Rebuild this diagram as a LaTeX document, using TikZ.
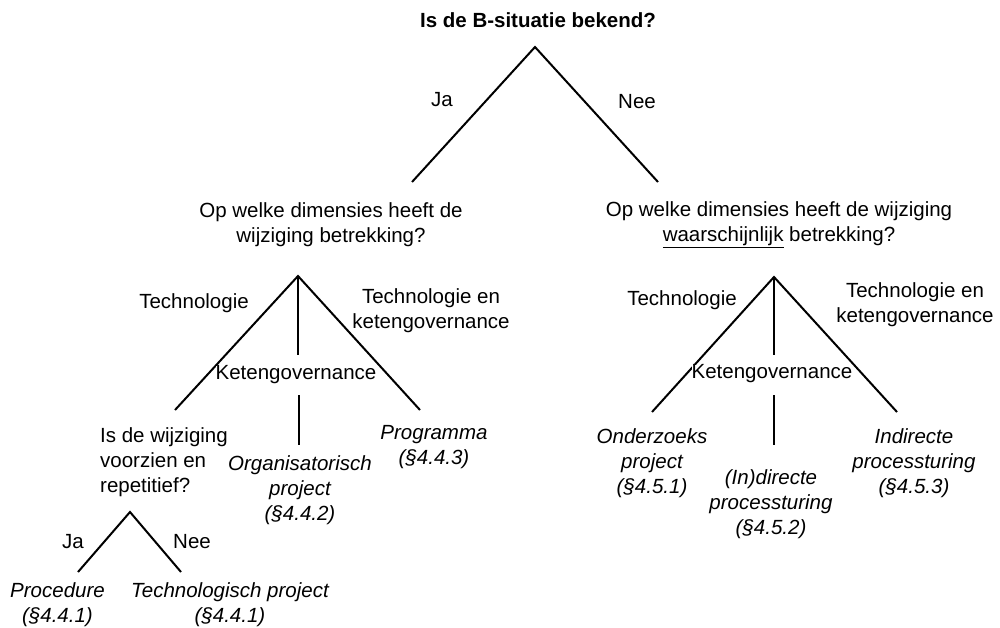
\documentclass[tikz,border=0pt]{standalone}
\usepackage{fontspec}
\setmainfont{Liberation Sans}
\begin{document}
\begin{tikzpicture}[x=1pt,y=-1pt,
  every node/.style={inner sep=0pt, font=\fontsize{20.5pt}{25pt}\selectfont},
  txt/.style={align=center},
  result/.style={align=center, font=\fontsize{20.5pt}{25pt}\selectfont\itshape},
  branch/.style={line width=2pt}]
\useasboundingbox (0,0) rectangle (1000,627);

% top question
\node[font=\fontsize{20.5pt}{25pt}\selectfont\bfseries] (q1) at (538,20) {Is de B-situatie bekend?};
\coordinate (a1) at (535,47);
\coordinate (a1l) at (412,182);
\coordinate (a1r) at (658,182);
\draw[branch] (a1l) -- (a1) -- (a1r);
\node (ja1) at (442,100) {Ja};
\node (nee1) at (637,102) {Nee};

% second level questions
\node[txt] (q2) at (331,224.5) {Op welke dimensies heeft de\\wijziging betrekking?};
\node[txt] (q3) at (779,224.5) {Op welke dimensies heeft de wijziging\\\underline{waarschijnlijk} betrekking?};

% left subtree
\coordinate (a2) at (298,276);
\coordinate (a2l) at (175,410);
\coordinate (a2r) at (420,410);
\coordinate (a2m) at (298,355);
\coordinate (a2m2) at (299,395);
\coordinate (a2m3) at (299,445);
\draw[branch] (a2l) -- (a2) -- (a2r);
\draw[branch] (a2) -- (a2m);
\draw[branch] (a2m2) -- (a2m3);
\node (t2) at (194,303) {Technologie};
\node[txt] (tk2) at (431,310.5) {Technologie en\\ketengovernance};
\node[fill=white] (k2) at (296,375) {Ketengovernance};

\node[align=left, anchor=west] (q4) at (100,462) {Is de wijziging\\voorzien en\\repetitief?};
\node[result] (r2) at (300,490) {Organisatorisch\\project\\(§4.4.2)};
\node[result] (r3) at (434,447.5) {Programma\\(§4.4.3)};

% innermost subtree
\coordinate (a4) at (130,512);
\coordinate (a4l) at (78,572);
\coordinate (a4r) at (181,572);
\draw[branch] (a4l) -- (a4) -- (a4r);
\node (ja4) at (73,542) {Ja};
\node (nee4) at (192,542) {Nee};
\node[result] (r1a) at (57.5,604.5) {Procedure\\(§4.4.1)};
\node[result] (r1b) at (230,604.5) {Technologisch project\\(§4.4.1)};

% right subtree
\coordinate (a3) at (774,277);
\coordinate (a3l) at (652,412);
\coordinate (a3r) at (897,412);
\coordinate (a3m) at (774,355);
\coordinate (a3m2) at (774,395);
\coordinate (a3m3) at (774,445);
\draw[branch] (a3l) -- (a3) -- (a3r);
\draw[branch] (a3) -- (a3m);
\draw[branch] (a3m2) -- (a3m3);
\node (t3) at (682,300) {Technologie};
\node[txt] (tk3) at (915,305) {Technologie en\\ketengovernance};
\node[fill=white] (k3) at (772,374) {Ketengovernance};

\node[result] (r4) at (652,463) {Onderzoeks\\project\\(§4.5.1)};
\node[result] (r5) at (771,504) {(In)directe\\processturing\\(§4.5.2)};
\node[result] (r6) at (914,463) {Indirecte\\processturing\\(§4.5.3)};
\end{tikzpicture}
\end{document}
